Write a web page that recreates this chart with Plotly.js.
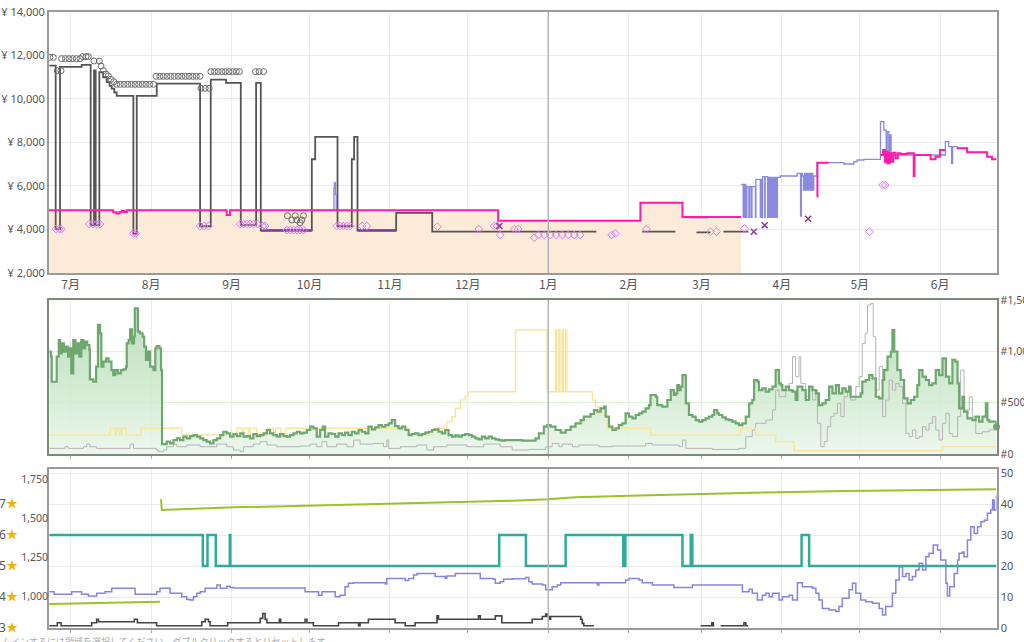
<!DOCTYPE html>
<html><head><meta charset="utf-8">
<script src="https://cdn.plot.ly/plotly-3.0.1.min.js"></script>
<style>html,body{margin:0;padding:0;background:#fff;}#chart{width:1024px;height:642px;}</style>
</head><body><div id="chart"></div>
<script>
// x values are days counted from 22 June (year 1)
const monthDays = [9, 40, 71, 101, 132, 162, 193, 224, 252, 283, 313, 344];
const monthLabels = ['7月','8月','9月','10月','11月','12月','1月','2月','3月','4月','5月','6月'];
const yearStartDay = 193;
const dayRange = [0.64, 365.7];

// ---- price panel ----
const amazonPrice = [[0.64,4880],[25.4,4790],[26.7,4740],[27.8,4800],[28.7,4860],[29.6,4800],[30.6,4880],[69.1,4665],[70.4,4880],[110.6,4880],[110.6,null],[111.3,4880],[173.7,4400],[228.5,5230],[244.7,4570],[267.3,4570]];
const buyBoxPrice = [[0.64,4880],[25.4,4790],[26.7,4740],[27.8,4800],[28.7,4860],[29.6,4800],[30.6,4880],[69.1,4665],[70.4,4880],[173.7,4400],[228.5,5230],[244.7,4570],[267.3,4570],[267.3,null],[296.6,5510],[296.7,7073],[301.1,7073],[301.1,null],[321.0,7426],[322.0,7656],[322.7,7119],[323.3,7579],[323.8,7043],[324.5,7502],[325.1,7119],[325.9,7533],[326.8,7272],[327.7,7502],[328.7,7472],[331.3,7502],[333.7,7502],[333.8,6460],[334.1,7426],[340.3,7226],[342.2,7349],[343.9,7656],[346.0,7656],[346.0,null],[350.5,7732],[354.4,7548],[362.1,7349],[364.0,7226],[365.7,7226]];
const newPrice = [[110.2,4880],[110.4,5900],[110.6,6150],[111.0,5600],[111.3,4880],[111.3,null],[247.0,4540],[254.7,4540],[254.7,null],[267.3,6077],[268.1,4559],[268.6,6077],[269.1,4559],[269.3,5969],[270.0,4559],[270.6,5969],[271.2,4559],[271.5,5969],[272.8,4559],[273.0,6307],[274.7,4559],[274.9,6307],[275.4,4559],[275.6,6429],[276.4,4559],[276.6,6429],[277.5,4559],[277.9,6399],[278.4,4559],[278.6,6399],[279.1,4559],[279.3,6399],[279.8,4559],[280.0,6399],[280.4,4559],[280.6,6399],[281.0,4559],[281.3,6399],[282.4,6460],[288.9,6583],[290.2,4620],[290.5,6583],[290.9,6460],[291.3,5816],[291.7,6583],[292.2,5816],[292.6,6583],[293.0,5816],[293.5,6583],[294.0,5816],[294.4,6583],[294.9,5816],[295.3,6460],[296.6,7073],[306.9,7012],[310.7,7119],[312.0,7196],[314.6,7226],[321.0,8959],[322.3,8575],[323.2,7043],[323.6,8499],[324.2,7043],[324.6,8346],[325.1,7119],[325.5,7426],[346.0,8039],[347.3,7809],[348.4,7043],[348.8,7809],[350.5,7732],[354.4,7548],[362.1,7349],[364.0,7226],[365.7,7226]];
const usedPrice = [[0.77,11535],[3.21,4020],[4.88,11475],[13.23,11570],[16.7,4200],[17.99,11320],[18.63,4200],[20.04,11240],[21.5,11000],[22.87,10780],[24.0,10600],[24.8,10480],[25.8,10300],[26.73,10140],[33.15,3810],[34.44,10140],[42.15,10710],[58.85,4150],[62.96,10890],[68.87,10740],[74.53,4200],[80.44,10740],[82.24,3960],[101.9,7230],[103.2,8255],[111.8,4150],[117.3,7230],[118.2,8255],[119.5,3960],[134.4,4760],[148.3,3900],[211.5,3900],[211.5,null],[229.2,3900],[242.0,3900],[242.0,null],[250.1,3870],[255.5,3870],[255.5,null],[260.5,3900],[270.1,3900]];
const usedGoodPrice = [[82.2,3950],[101.9,3950],[101.9,null],[119.5,3950],[134.4,3950]];
const likeNewPrice = [[1.0,11916],[2.3,11916],[3.85,11303],[5.27,11303],[5.52,11855],[6.94,11855],[8.35,11855],[9.76,11855],[11.18,11855],[12.59,11855],[13.62,11947],[14.9,11947],[15.8,11947],[17.99,11748],[20.04,11748],[20.7,11518],[21.6,11303],[22.6,11150],[23.5,11058],[24.5,10905],[25.6,10797],[26.7,10675],[28.1,10675],[29.55,10675],[30.97,10675],[32.4,10675],[33.8,10675],[35.2,10675],[36.6,10675],[38.0,10675],[39.4,10675],[40.9,10675],[41.9,11043],[43.3,11043],[44.7,11043],[46.1,11043],[47.5,11043],[48.95,11043],[50.4,11043],[51.8,11043],[53.2,11043],[54.6,11043],[56.0,11043],[57.4,11043],[58.85,11043],[59.2,10491],[60.8,10491],[62.3,10491],[63.0,11257],[64.4,11257],[65.8,11257],[67.2,11257],[68.6,11257],[70.0,11257],[71.4,11257],[72.8,11257],[74.0,11257],[80.2,11257],[81.6,11257],[83.3,11257],[92.5,4634],[94.2,4435],[95.5,4634],[96.1,4435],[97.4,4313],[98.0,4435],[98.7,4634]];
const collectiblePrice = [[3.34,4021],[4.6,4021],[5.4,4021],[16.2,4251],[17.7,4251],[19.0,4251],[20.3,4251],[33.15,3822],[34.05,3822],[58.85,4159],[60.4,4159],[62.1,4159],[74.3,4251],[75.6,4251],[76.8,4251],[78.1,4251],[79.4,4251],[80.95,4251],[83.0,4159],[83.9,4159],[92.3,3975],[93.6,3975],[94.9,3975],[96.2,3975],[97.4,3975],[98.7,3975],[111.5,4159],[112.8,4159],[114.1,4159],[115.4,4159],[116.7,4159],[121.2,4159],[123.1,4159],[150.3,4129],[166.2,4021],[172.2,4159],[173.3,4159],[174.5,3745],[179.9,4021],[181.4,4021],[187.6,3623],[189.2,3745],[191.5,3745],[193.8,3745],[196.1,3745],[198.4,3745],[200.7,3745],[203.0,3745],[205.3,3745],[217.4,3745],[218.9,3822],[230.8,4021],[255.5,3898],[257.8,3898],[268.6,4050],[316.7,3898],[321.8,6045],[322.8,6045]];
const acceptablePrice = [[174.2,4159],[272.2,3900],[276.4,4191],[293.1,4498]];

// ---- sales rank panel ----
const salesRank = [[0.8,997],[1.4,948],[1.7,704],[2.7,704],[3.6,948],[4.4,1110],[4.9,981],[5.6,1078],[6.4,997],[7.2,1046],[8.0,948],[8.5,1029],[9.2,786],[10.0,1110],[10.8,981],[11.6,1078],[12.3,948],[13.1,1110],[13.9,1029],[14.6,1094],[15.4,1062],[16.2,1013],[16.4,727],[17.7,704],[18.8,851],[19.5,1257],[20.3,1175],[20.8,851],[21.6,900],[22.6,932],[23.6,900],[24.7,818],[25.4,769],[26.2,818],[27.2,786],[28.3,818],[29.3,825],[30.3,851],[30.6,1078],[31.3,1110],[31.9,1214],[32.6,1078],[33.4,1143],[33.7,1419],[34.4,1419],[34.9,1192],[35.7,1175],[36.7,1143],[37.3,1046],[38.0,916],[38.8,997],[39.6,851],[40.9,818],[41.6,1029],[42.1,1052],[43.2,1029],[43.8,818],[44.2,97],
[46.0,120],[47.3,104],[48.6,136],[49.9,153],[51.1,136],[52.4,169],[53.7,153],[55.0,175],[56.3,185],[57.6,169],[58.9,153],[60.1,136],[61.4,120],[62.7,104],[64.0,136],[65.3,153],[66.6,185],[67.8,217],[69.1,201],[70.4,169],[71.7,195],[73.0,175],[74.3,201],[75.6,169],[76.8,175],[78.1,153],[79.4,195],[80.7,175],[82.0,185],[83.3,201],[84.6,234],[85.8,201],[87.1,185],[88.4,169],[89.7,195],[91.0,175],[92.3,169],[93.5,185],[94.8,201],[96.1,217],[97.4,201],[98.7,208],[100.0,234],[101.3,266],[102.5,250],[103.8,169],[105.1,234],[106.1,266],[107.0,169],[108.3,201],[109.6,195],[110.9,169],[112.2,201],[113.5,185],[114.7,208],[116.0,185],[117.3,217],[118.6,201],[119.9,234],[121.2,217],[122.5,201],[123.7,266],[125.0,240],[126.3,260],[127.6,282],[128.9,266],[130.2,282],[131.5,299],[132.7,331],[134.0,273],[135.3,250],[136.6,266],[137.9,234],[139.2,185],[140.4,195],[141.7,201],[143.0,185],[144.3,195],[145.6,208],[146.9,217],[148.2,234],[149.4,240],[150.7,217],[152.0,201],[153.3,234],[154.6,185],[155.9,169],[157.2,182],[158.4,169],[159.7,185],[161.0,195],[162.3,185],[163.6,169],[164.9,153],[166.1,143],[167.4,169],[168.7,153],[170.0,169],[171.3,153],[172.6,143],[173.9,136],[175.1,130],[176.4,136],
[179.1,136],[183.0,130],[186.8,130],[188.1,153],[189.4,201],[191.3,266],[192.6,282],[193.9,266],[195.8,234],[197.8,208],[199.7,234],[201.6,266],[203.5,299],[205.5,331],[206.7,364],[209.3,390],[210.6,429],[211.9,412],[213.2,445],[214.5,461],[215.1,364],[216.4,266],[217.7,234],[219.0,250],[220.2,282],[221.5,299],[222.8,396],[224.1,364],[225.4,347],[226.7,380],[228.0,396],[229.2,412],[230.5,445],[231.8,477],[232.4,575],[234.4,558],[235.0,477],[236.9,461],[238.9,526],[240.2,623],[241.4,575],[242.1,591],[242.7,672],[243.4,623],[244.0,656],[244.7,769],[245.7,769],[246.0,494],[247.2,380],[248.5,364],[249.8,331],[251.1,315],[252.4,331],[253.6,347],[254.9,364],[256.2,380],[256.9,429],[258.1,396],[258.8,380],[260.1,357],[261.4,338],[262.6,331],[263.9,315],[265.2,299],[266.5,282],[267.8,299],[269.1,364],[270.4,494],[271.6,526],[272.3,721],[273.6,705],[274.2,623],[275.5,640],[276.8,607],[278.1,630],[279.4,656],[280.6,818],[281.9,688],[282.6,672],[283.2,623],[284.5,656],[285.8,623],[287.1,607],[288.3,526],[289.0,656],[290.9,623],[292.2,526],[293.5,656],[294.8,623],[296.1,591],[297.3,477],[298.6,494],[299.9,526],[301.2,656],[302.5,591],[303.8,672],[305.0,591],[306.3,640],[307.6,607],[308.9,656],[309.5,558],[311.5,558],[313.4,591],[314.0,705],[315.3,721],[316.6,769],[317.9,737],[319.2,558],[320.5,542],[321.8,721],[322.4,818],[323.7,948],[325.0,997],[325.6,1208],[326.3,997],[327.5,818],[328.8,721],[330.1,542],[331.4,494],[332.7,526],[334.0,558],[335.2,672],[335.9,818],[337.2,753],[338.5,721],[339.7,672],[341.0,688],[342.3,818],[343.6,769],[344.9,932],[346.2,753],[347.5,688],[348.7,916],[349.8,900],[350.7,688],[351.3,445],[352.6,558],[353.2,412],[354.5,347],[356.4,331],[357.7,364],[359.0,315],[360.3,364],[361.6,494],[362.2,331],[362.9,315],[364.2,315],[365.7,266]];
const subRank = [[0.8,55],[6.2,55],[6.8,71],[8.1,55],[13.9,71],[15.2,97],[16.4,71],[19.0,55],[31.9,97],[33.2,55],[42.1,39],[42.8,23],[44.7,39],[46.0,71],[48.6,97],[49.9,71],[53.7,88],[58.9,71],[65.3,97],[69.1,71],[71.7,39],[74.3,23],[75.6,71],[79.4,97],[82.0,120],[84.6,88],[88.4,71],[97.4,78],[101.3,97],[103.8,71],[105.8,120],[107.7,71],[111.5,97],[115.4,71],[118.0,136],[120.5,97],[125.7,104],[129.5,71],[130.8,136],[131.5,55],[136.0,71],[142.4,88],[146.2,39],[148.8,71],[153.9,88],[161.7,71],[168.1,97],[174.5,71],[179.1,39],[185.5,45],[192.0,71],[194.5,104],[197.1,71],[198.4,97],[202.3,71],[204.8,88],[212.5,71],[217.7,78],[230.5,104],[233.1,88],[243.4,71],[244.7,136],[246.0,55],[256.2,45],[266.5,55],[269.1,169],[271.6,234],[272.9,299],[276.8,331],[279.4,429],[280.6,623],[281.9,558],[284.5,623],[285.8,688],[287.1,948],[288.3,753],[289.6,948],[290.3,688],[292.2,558],[293.5,623],[294.8,526],[296.1,623],[296.7,299],[298.0,71],[299.3,120],[300.5,266],[301.8,364],[303.1,396],[304.4,494],[305.7,364],[307.0,558],[308.3,623],[309.5,526],[311.5,656],[312.8,753],[314.0,1078],[315.1,1175],[316.0,1451],[317.3,1468],[318.2,1143],[319.2,623],[320.5,851],[321.8,364],[323.0,526],[324.3,721],[325.6,623],[326.9,688],[328.2,656],[329.5,494],[330.8,201],[332.0,169],[333.3,234],[334.6,153],[335.9,169],[337.2,266],[338.5,234],[339.7,299],[341.0,364],[342.3,234],[343.6,136],[344.9,299],[346.2,396],[347.5,201],[348.7,169],[350.7,364],[351.9,818],[353.2,429],[355.2,558],[356.4,364],[357.7,201],[360.3,217],[362.9,234],[365.7,234]];
const offerRank = [[0.8,185],[24.2,250],[26.1,185],[26.7,250],[28.0,185],[28.7,250],[30.3,185],[36.0,250],[51.8,185],[73.0,250],[74.9,185],[75.6,250],[77.5,185],[78.1,250],[80.7,185],[84.6,250],[87.0,185],[88.0,250],[90.0,185],[92.0,250],[139.2,185],[148.8,250],[153.9,315],[155.9,364],[157.2,445],[159.1,526],[161.0,565],[162.3,607],[180.4,1208],[192.6,607],[195.8,1208],[196.2,607],[197.1,1208],[197.5,607],[198.4,1208],[198.8,607],[199.7,1208],[200.1,607],[210.0,526],[211.2,461],[212.8,380],[215.7,250],[232.4,185],[267.1,250],[272.9,185],[280.6,120],[287.7,32],[344.9,71],[365.7,71]];

// ---- rating / counts panel ----
const ratingCount = [[0.8,949],[43.4,964],[43.4,null],[43.8,1620],[44.1,1551],[71.7,1568],[110.3,1583],[142.4,1594],[179.1,1611],[192.9,1620],[203.5,1633],[224.1,1643],[248.5,1654],[281.9,1665],[307.6,1673],[346.2,1682],[365.7,1684]];
const rating = [[0.8,6],[59.9,5],[61.7,6],[64.9,5],[70.3,6],[70.5,5],[174.1,6],[184.4,5],[199.7,6],[221.9,5],[222.7,6],[244.7,5],[247.9,6],[248.5,5],[290.6,6],[293.5,5],[365.7,5]];
const newOfferCount = [[0.8,11.7],[2.6,10.9],[9.4,11.7],[13.2,10.9],[15.8,10.3],[19.0,11.2],[22.2,11.7],[24.8,12.8],[33.8,10.9],[42.1,11.7],[43.4,12.8],[47.3,11.2],[51.8,10.1],[53.7,9.2],[55.0,9.0],[56.3,10.1],[57.6,11.2],[58.9,11.7],[60.8,12.8],[65.3,13.9],[66.6,12.8],[69.1,13.5],[70.4,13.1],[71.7,12.9],[99.3,11.7],[104.5,10.6],[105.8,11.7],[110.9,10.1],[112.8,10.6],[114.7,13.3],[116.0,14.4],[118.0,14.6],[130.2,14.2],[130.8,16.0],[137.9,15.3],[139.2,16.0],[141.1,17.1],[142.4,17.6],[149.4,16.6],[153.3,16.0],[153.9,16.8],[157.2,17.6],[166.8,16.0],[171.9,15.7],[172.6,14.4],[174.5,14.9],[175.8,15.7],[179.1,15.9],[184.3,16.3],[185.5,14.9],[186.8,14.2],[190.7,13.9],[192.0,12.3],[194.5,13.3],[196.5,13.9],[197.8,14.6],[211.9,13.9],[212.5,14.6],[222.8,15.5],[224.1,16.0],[228.0,15.5],[229.2,14.6],[233.1,13.9],[241.4,13.1],[248.5,13.9],[267.8,11.7],[270.4,12.5],[271.6,11.2],[273.6,9.0],[275.5,10.6],[276.8,11.2],[278.1,10.1],[279.4,11.2],[281.9,9.0],[283.2,10.1],[285.8,10.6],[287.1,9.0],[289.0,14.6],[290.9,13.3],[294.8,12.8],[296.1,11.2],[297.3,9.0],[298.6,6.3],[301.2,5.8],[303.8,5.3],[305.0,6.9],[306.3,9.6],[308.9,12.3],[310.2,14.4],[311.5,11.2],[313.4,9.0],[315.3,8.5],[317.9,8.0],[320.5,6.3],[321.8,4.2],[323.0,6.9],[325.6,11.2],[326.9,15.5],[328.2,19.8],[329.5,16.6],[330.8,17.6],[332.0,15.5],[333.3,16.6],[334.6,18.7],[335.9,20.9],[337.2,18.7],[338.5,23.0],[339.7,24.1],[341.3,26.8],[343.0,25.2],[344.2,21.9],[346.2,14.4],[346.8,10.3],[347.7,13.3],[349.4,17.6],[350.7,21.9],[351.3,24.1],[352.6,24.5],[353.2,23.0],[354.5,28.4],[355.8,32.7],[357.1,30.5],[358.4,32.7],[359.7,34.3],[361.0,34.8],[362.2,37.0],[363.5,38.1],[364.2,41.3],[364.8,38.1],[365.7,42.9]];
const usedOfferCount = [[0.8,0.75],[3.85,1.7],[5.3,0.75],[17.1,1.7],[19.0,2.8],[19.7,2.0],[33.5,2.8],[34.7,1.7],[42.1,0.75],[59.5,2.0],[60.8,2.8],[62.1,2.0],[62.7,0.75],[69.5,1.7],[82.0,3.1],[83.0,4.7],[83.9,2.8],[84.6,1.7],[89.4,2.8],[89.9,1.7],[99.3,2.8],[100.0,1.7],[102.5,0.75],[112.2,1.7],[119.9,0.75],[120.5,1.7],[123.7,2.8],[134.0,1.7],[137.9,0.75],[141.7,1.7],[150.1,3.9],[150.7,2.8],[166.1,3.9],[166.8,2.8],[172.6,3.9],[175.1,1.7],[186.8,2.8],[190.7,3.7],[192.0,4.5],[192.6,3.7],[193.3,2.8],[193.9,3.7],[205.5,2.8],[206.1,1.5],[206.7,0.75],[210.6,0.75],[210.6,null],[251.7,0.75],[256.0,1.7],[256.6,0.75],[257.0,0.75],[257.0,null],[259.4,0.75],[268.4,1.7],[269.1,0.75],[270.0,0.75]];

const priceTicks = [2000, 4000, 6000, 8000, 10000, 12000, 14000];
const rankTicks = [0, 500, 1000, 1500];
const countTicks = [1000, 1250, 1500, 1750];
const starLevels = [3, 4, 5, 6, 7];
const hintText = 'ムインするには領域を選択してください。ダブルクリックするとリセットします。';

const fmt = v => v.toLocaleString('en-US');
const X = s => s.map(p => p[0]);
const Y = s => s.map(p => p[1]);
const dom = [49/1024, 996.5/1024];
const grid = '#ebebeb';

function line(s, xa, ya, color, width, shape) {
  return {type:'scatter', mode:'lines', x:X(s), y:Y(s), xaxis:xa, yaxis:ya,
    line:{color:color, width:width, shape:shape||'hv'}, connectgaps:false, hoverinfo:'skip'};
}
function marks(s, symbol, color, size, lw) {
  return {type:'scatter', mode:'markers', x:X(s), y:Y(s), xaxis:'x', yaxis:'y',
    marker:{symbol:symbol, size:size, color:color, line:{color:color, width:lw}}, hoverinfo:'skip'};
}

const traces = [];
// price panel
traces.push(Object.assign(line(amazonPrice,'x','y','rgba(0,0,0,0)',0), {fill:'tozeroy', fillcolor:'#fdebd9'}));
traces.push(line(usedPrice,'x','y','#555555',1.8));
traces.push(line(usedGoodPrice,'x','y','#7b3f9e',2.6));
traces.push(line(newPrice,'x','y','#8a8ae0',1.3));
traces.push(line(buyBoxPrice,'x','y','#ff1aa8',2));
traces.push(marks(likeNewPrice,'circle-open','#6a6a6a',6,1));
traces.push(marks(collectiblePrice,'diamond-open','#e07af4',6,1));
traces.push(marks(acceptablePrice,'x-thin-open','#8a3a9a',6,1.5));
// rank panel
traces.push({type:'scatter', mode:'lines', x:X(salesRank), y:Y(salesRank), xaxis:'x2', yaxis:'y2',
  line:{width:0, shape:'hv'}, fill:'tozeroy', fillcolor:'rgba(200,232,200,0.6)',
  fillgradient:{type:'vertical', start:0, stop:1500, colorscale:[[0,'rgba(235,247,235,0.9)'],[1,'rgba(160,210,160,0.7)']]},
  hoverinfo:'skip'});
traces.push(line(subRank,'x2','y2','#b4b4b4',1));
traces.push(line(offerRank,'x2','y2','#f8e6a0',1.5));
traces.push(line(salesRank,'x2','y2','#6fa86f',2.2));
traces.push({type:'scatter', mode:'markers', x:[salesRank[salesRank.length-1][0]], y:[salesRank[salesRank.length-1][1]],
  xaxis:'x2', yaxis:'y2', marker:{size:7, color:'#6fa86f'}, hoverinfo:'skip', cliponaxis:false});
// rating panel
traces.push(line(ratingCount,'x3','y4','#9cc229',2,'linear'));
traces.push(line(rating,'x3','y5','#2fab9b',2.5));
traces.push(line(newOfferCount,'x3','y3','#8585dd',1.5));
traces.push(line(usedOfferCount,'x3','y3','#444444',1.6));

const frame = {showline:true, linewidth:2, mirror:true, zeroline:false, ticks:''};
const layout = {
  width:1024, height:642, margin:{l:0,r:0,t:0,b:0},
  paper_bgcolor:'#ffffff', plot_bgcolor:'#ffffff', showlegend:false,
  font:{family:'Noto Sans, Noto Sans CJK JP, sans-serif', size:11, color:'#555'},
  xaxis:Object.assign({}, frame, {domain:dom, anchor:'y', range:dayRange, tickvals:monthDays, ticktext:monthLabels,
    showgrid:true, gridcolor:grid, linecolor:'#9a9a9a', tickfont:{size:12, family:'Noto Sans CJK JP, sans-serif'}}),
  yaxis:Object.assign({}, frame, {domain:[0.5748,0.9813], anchor:'x', range:[2000,14000], tickvals:priceTicks,
    ticktext:priceTicks.map(v => '¥ ' + fmt(v)), showgrid:true, gridcolor:grid, linecolor:'#9a9a9a'}),
  xaxis2:Object.assign({}, frame, {domain:dom, anchor:'y2', range:dayRange, tickvals:monthDays, showticklabels:false,
    showgrid:true, gridcolor:grid, linecolor:'#7c8a7c', ticks:'outside', ticklen:3, tickcolor:'#aaa'}),
  yaxis2:Object.assign({}, frame, {domain:[0.2928,0.5327], anchor:'x2', side:'right', range:[0,1500], tickvals:rankTicks,
    ticktext:rankTicks.map(v => '#' + fmt(v)), tickfont:{size:10.5}, showgrid:true, gridcolor:'#d9f5cf', linecolor:'#7c8a7c'}),
  xaxis3:Object.assign({}, frame, {domain:dom, anchor:'y3', range:dayRange, tickvals:monthDays, showticklabels:false,
    showgrid:true, gridcolor:grid, linecolor:'#9a9a9a', ticks:'outside', ticklen:3, tickcolor:'#aaa'}),
  yaxis3:Object.assign({}, frame, {domain:[0.0218,0.2695], anchor:'x3', side:'right', range:[0,51.3], dtick:10,
    showgrid:true, gridcolor:grid, linecolor:'#9a9a9a'}),
  yaxis4:{overlaying:'y3', anchor:'x3', side:'left', range:[795,1814], tickvals:countTicks,
    ticktext:countTicks.map(fmt), tickfont:{size:10.5},
    showgrid:false, zeroline:false, showline:false, ticks:''},
  yaxis5:{overlaying:'y3', anchor:'free', position:0.0175, side:'left', range:[3,8.13], tickvals:starLevels,
    ticktext:starLevels.map(n => n + '<span style="color:#f2b400">★</span>'), tickfont:{size:12},
    showgrid:false, zeroline:false, showline:false, ticks:''},
  shapes:[['x','y'],['x2','y2'],['x3','y3']].map(([xa,ya]) => ({type:'line', xref:xa, yref:ya+' domain',
    x0:yearStartDay, x1:yearStartDay, y0:0, y1:1, line:{color:'#b5b5b5', width:1.5}, layer:'above'})),
  annotations:[{text:hintText, xref:'paper', yref:'paper', x:0, y:0.0005, xanchor:'left', yanchor:'middle',
    showarrow:false, font:{size:9, color:'#aaa', family:'Noto Sans CJK JP, sans-serif'}}]
};
Plotly.newPlot('chart', traces, layout, {staticPlot:true});
</script></body></html>
